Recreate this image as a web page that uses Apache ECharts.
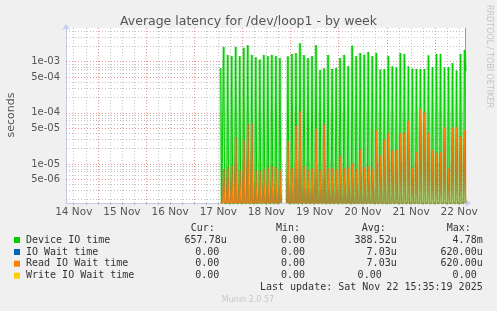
<!DOCTYPE html>
<html><head><meta charset="utf-8">
<script src="https://cdn.jsdelivr.net/npm/echarts@6/dist/echarts.min.js"></script>
<style>html,body{margin:0;padding:0;background:#f0f0f0;}#c{width:497px;height:311px;}</style>
</head><body><div id="c"></div>
<script>
// ---------- data ----------
const chartTitle = 'Average latency for /dev/loop1 - by week';
const yAxisName = 'seconds';
// x axis: hours since 14 Nov 00:00
const dayLabels = ['14 Nov','15 Nov','16 Nov','17 Nov','18 Nov','19 Nov','20 Nov','21 Nov','22 Nov'];
const dayLabelHours = [12, 36, 60, 84, 108, 132, 156, 180, 204];
const yTickValues = [1e-3, 5e-4, 1e-4, 5e-5, 1e-5, 5e-6];
const yTickLabels = ['1e-03','5e-04','1e-04','5e-05','1e-05','5e-06'];
// 30-minute samples; activity once every 2-hour cycle (one sample), other samples are 0.
const firstSampleHour = 85.2;   // 17 Nov ~13:12
const sampleHours = 0.5;
const samplesPerCycle = 4;
// value of the active sample in each cycle (null = no data)
const deviceIO = [
  7.5e-4, 1.95e-3, 1.36e-3, 1.29e-3, 1.95e-3, 1.29e-3, 1.87e-3, 2.1e-3, 1.36e-3, 1.22e-3,
  1.1e-3, 1.36e-3, 1.29e-3, 1.36e-3, 1.29e-3, 1.18e-3, null, 1.28e-3, 1.42e-3, 1.47e-3,
  2.3e-3, 1.34e-3, 1.18e-3, 1.29e-3, 2.1e-3, 6.9e-4, 7.4e-4, 1.36e-3, 7.2e-4, 7.6e-4,
  1.18e-3, 1.36e-3, 8.2e-4, 2.06e-3, 1.29e-3, 1.48e-3, 1.37e-3, 1.55e-3, 1.29e-3, 1.48e-3,
  7.0e-4, 7.2e-4, 1.29e-3, 8.1e-4, 7.8e-4, 1.48e-3, 1.42e-3, 8.1e-4, 7.3e-4, 7.2e-4,
  7.2e-4, 7.2e-4, 1.33e-3, 7.8e-4, 1.42e-3, 1.42e-3, 7.8e-4, 7.8e-4, 9.4e-4, 6.7e-4,
  1.42e-3, 1.7e-3
];
const deviceIOLast = 6.5778e-4;
const readWait = [
  0, 7.9e-6, 8.5e-6, 9.5e-6, 3.3e-5, 7.5e-6, 2.9e-5, 6.0e-5, 6.2e-5, 7.5e-6,
  7.3e-6, 7.9e-6, 8.8e-6, 8.9e-6, 8.5e-6, 7.6e-6, null, 2.8e-5, 8.2e-6, 5.6e-5,
  1.07e-4, 8.9e-6, 7.6e-6, 8.1e-6, 4.8e-5, 7.6e-6, 5.9e-5, 8.1e-6, 8.2e-6, 7.9e-6,
  1.4e-5, 8.2e-6, 8.6e-6, 1.03e-5, 7.9e-6, 1.9e-5, 8.6e-6, 9.0e-6, 7.9e-6, 4.6e-5,
  1.5e-5, 3.0e-5, 4.0e-5, 1.8e-5, 1.9e-5, 4.0e-5, 4.1e-5, 6.9e-5, 8.4e-6, 1.7e-5,
  1.18e-4, 1.0e-4, 4.0e-5, 1.85e-5, 1.6e-5, 1.7e-5, 5.2e-5, 8.1e-6, 5.0e-5, 5.3e-5,
  3.4e-5, 4.6e-5
];
const readWaitLast = 0;
const ioWait = readWait;         // identical to read wait (no writes)
const ioWaitLast = readWaitLast;

const legendNames = ['Device IO time','IO Wait time','Read IO Wait time','Write IO Wait time'];
const legendColors = ['#00cc00','#0066b3','#ff8000','#ffcc00'];
const legendCur = ['657.78u','0.00','0.00','0.00'];
const legendMin = ['0.00','0.00','0.00','0.00'];
const legendAvg = ['388.52u','7.03u','7.03u','0.00'];
const legendMax = ['4.78m','620.00u','620.00u','0.00'];
const lastUpdate = 'Last update: Sat Nov 22 15:35:19 2025';

// ---------- layout ----------
const X_MIN = 8.14, X_MAX = 207.4;
const Y_MIN = 1.72e-6, Y_MAX = 4.57e-3;
const L_MIN = Math.log10(Y_MIN), L_MAX = Math.log10(Y_MAX);

function buildSamples(cycles, last) {
  const n = samplesPerCycle * (cycles.length - 1) + 1;
  const vals = new Array(n).fill(0);
  vals[0] = cycles[0];
  for (let j = 1; j < cycles.length; j++) {
    const k = samplesPerCycle * j - 1;
    if (cycles[j] === null) { for (let m = k - 2; m <= k + 2; m++) vals[m] = null; }
    else vals[k] = cycles[j];
  }
  vals[n - 1] = last;
  // rrdtool draws values below the axis minimum on the bottom edge
  return vals.map((v, k) => [firstSampleHour + k * sampleHours, v === null ? '-' : (v <= Y_MIN ? Y_MIN : v)]);
}

const RED = 'rgba(225,110,110,0.75)', GRAY = 'rgba(170,170,170,0.7)';
// horizontal grid lines: placed on a helper linear axis in log10 units
const hLines = [];
for (let e = -6; e <= -3; e++) {
  for (let m = 1; m <= 9; m++) {
    const v = m * Math.pow(10, e);
    if (v < Y_MIN || v > Y_MAX) continue;
    const idx = yTickValues.findIndex(t => Math.abs(t - v) / v < 1e-6);
    if (idx >= 0) {
      hLines.push({ yAxis: Math.log10(v), lineStyle: { color: RED, type: [1, 2], width: 1 },
        label: { show: true, position: 'start', formatter: yTickLabels[idx], color: '#555', fontSize: 10, fontFamily: 'DejaVu Sans', distance: 6 } });
    } else {
      hLines.push({ yAxis: Math.log10(v), lineStyle: { color: GRAY, type: [1, 2], width: 1 } });
    }
  }
}
const vLines = [];
for (let h = 12; h <= 204; h += 6) {
  vLines.push({ xAxis: h, lineStyle: { color: h % 24 === 0 ? RED : GRAY, type: [1, 2], width: 1 } });
}
vLines.push({ xAxis: X_MAX - 0.3, lineStyle: { color: '#999', type: 'solid', width: 1 } });

const monoFont = '10px "DejaVu Sans Mono"';
const graphics = [];
graphics.push({ type: 'text', x: 11, y: 115, rotation: Math.PI / 2, style: { text: yAxisName, font: '11px "DejaVu Sans"', fill: '#555', align: 'center', verticalAlign: 'middle' } });
graphics.push({ type: 'text', x: 489, y: 5, rotation: -Math.PI / 2, style: { text: 'RRDTOOL / TOBI OETIKER', font: '8px "DejaVu Sans"', fill: '#c4c4c4', align: 'left', verticalAlign: 'middle' } });
graphics.push({ type: 'text', x: 248, y: 300, style: { text: 'Munin 2.0.57', font: '8px "DejaVu Sans"', fill: '#c8c8c8', align: 'center', verticalAlign: 'middle' } });
const headerY = 228, rowY = [240, 252, 263.7, 275.7];
[['Cur:', 190.7], ['Min:', 276], ['Avg:', 361.7], ['Max:', 446.7]].forEach(([t, x]) =>
  graphics.push({ type: 'text', x, y: headerY, style: { text: t, font: monoFont, fill: '#333', verticalAlign: 'middle' } }));
const colEnds = [[226.7, 219.3], [305, 305], [396.7, 381.7], [482.7, 476.7]];
legendNames.forEach((name, i) => {
  graphics.push({ type: 'rect', shape: { x: 14, y: rowY[i] - 3, width: 6, height: 6 }, style: { fill: legendColors[i] } });
  graphics.push({ type: 'text', x: 26, y: rowY[i], style: { text: name, font: monoFont, fill: '#333', verticalAlign: 'middle' } });
  [legendCur, legendMin, legendAvg, legendMax].forEach((col, c) => {
    const txt = col[i];
    const end = /[a-z]$/.test(txt) ? colEnds[c][0] : colEnds[c][1];
    graphics.push({ type: 'text', x: end, y: rowY[i], style: { text: txt, font: monoFont, fill: '#333', align: 'right', verticalAlign: 'middle' } });
  });
});
graphics.push({ type: 'text', x: 482.7, y: 287.7, style: { text: lastUpdate, font: monoFont, fill: '#333', align: 'right', verticalAlign: 'middle' } });

const greenData = buildSamples(deviceIO, deviceIOLast);
const blueData = buildSamples(ioWait, ioWaitLast);
const orangeData = buildSamples(readWait, readWaitLast);
// anti-aliasing halo of rrdtool's steep lines
function halo(data, color, z) {
  return { type: 'line', data, symbol: 'none', silent: true, lineStyle: { color, width: 3 }, clip: true, z };
}
const axisColor = '#c5cbe8';
const option = {
  backgroundColor: '#f0f0f0',
  animation: false,
  title: { text: chartTitle, left: 'center', top: 10, textStyle: { fontFamily: 'DejaVu Sans', fontSize: 12.5, fontWeight: 'normal', color: '#555' } },
  grid: { left: 66, right: 31, top: 28, bottom: 108, show: true, backgroundColor: '#fff', borderWidth: 0 },
  xAxis: [{
    type: 'value', min: X_MIN, max: X_MAX,
    axisLine: { show: true, lineStyle: { color: axisColor }, symbol: ['none', 'arrow'], symbolSize: [6, 6], symbolOffset: [0, 5] },
    axisTick: { show: true, length: 2, lineStyle: { color: '#bbb' }, customValues: (function () { const a = []; for (let h = 12; h <= 204; h += 6) a.push(h); return a; })() },
    axisLabel: { show: true, customValues: dayLabelHours, formatter: v => dayLabels[dayLabelHours.indexOf(v)], color: '#555', fontFamily: 'DejaVu Sans', fontSize: 10.5, margin: 4 },
    splitLine: { show: false }
  }],
  yAxis: [{
    type: 'log', logBase: 10, min: Y_MIN, max: Y_MAX,
    axisLine: { show: true, lineStyle: { color: axisColor }, symbol: ['none', 'arrow'], symbolSize: [6, 6], symbolOffset: [0, 4] },
    axisTick: { show: false }, axisLabel: { show: false }, splitLine: { show: false }, minorSplitLine: { show: false }
  }, {
    type: 'value', min: L_MIN, max: L_MAX, show: false, splitLine: { show: false }
  }],
  series: [
    { type: 'line', data: [], silent: true, z: 1, yAxisIndex: 1,
      markLine: { silent: true, symbol: ['none', 'none'], animation: false, z: 1, label: { show: false }, data: hLines.concat(vLines) } },
    halo(greenData, 'rgba(0,204,0,0.38)', 2),
    { name: legendNames[0], type: 'line', data: greenData, symbol: 'none', showSymbol: false, lineStyle: { color: legendColors[0], width: 1 }, clip: true, z: 3 },
    { name: legendNames[1], type: 'line', data: blueData, symbol: 'none', showSymbol: false, lineStyle: { color: legendColors[1], width: 1 }, clip: true, z: 4 },
    halo(orangeData, 'rgba(230,120,20,0.25)', 4),
    { name: legendNames[2], type: 'line', data: orangeData, symbol: 'none', showSymbol: false, lineStyle: { color: legendColors[2], width: 1 }, clip: true, z: 5 }
  ],
  graphic: graphics
};
const chart = echarts.init(document.getElementById('c'));
chart.setOption(option);
</script></body></html>
